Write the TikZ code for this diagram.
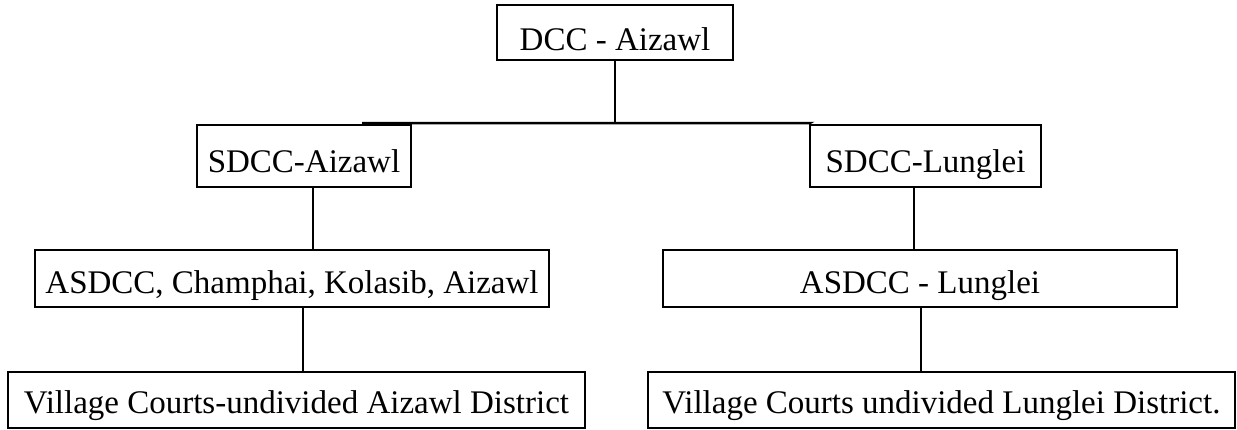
\documentclass[tikz,border=0pt]{standalone}
\usepackage{fontspec}
\setmainfont{Liberation Serif}
\begin{document}
\begin{tikzpicture}[x=1pt,y=-1pt,
  box/.style={draw, line width=2.5pt, inner sep=0pt, text depth=0pt,
    font=\fontsize{33}{36}\selectfont, align=center},
  link/.style={line width=2.5pt}]
\useasboundingbox (0,0) rectangle (1237,429);
\node[box, minimum width=236pt, minimum height=55pt, text height=35pt] (dcc) at (615,32.5) {DCC - Aizawl};
\node[box, minimum width=214pt, minimum height=62pt, text height=32pt] (sa) at (304,156) {SDCC-Aizawl};
\node[box, minimum width=231pt, minimum height=62pt, text height=32pt] (sl) at (925.5,156) {SDCC-Lunglei};
\node[box, minimum width=514pt, minimum height=57pt, text height=29pt] (aa) at (292,278.5) {ASDCC, Champhai, Kolasib, Aizawl};
\node[box, minimum width=514pt, minimum height=57pt, text height=29pt] (al) at (920,278.5) {ASDCC - Lunglei};
\node[box, minimum width=577pt, minimum height=56pt, text height=26pt] (va) at (296.5,400) {Village Courts-undivided Aizawl District};
\node[box, minimum width=587pt, minimum height=56pt, text height=26pt] (vl) at (941.5,400) {Village Courts undivided Lunglei District.};
\coordinate (jL) at (362,123);
\coordinate (jR) at (810,123);
\draw[link] (dcc.south) -- (dcc.south |- jL);
\draw[link] (jL) -- (jR) -- (sl.north west);
\draw[link] ([xshift=9pt]sa.south) -- ([xshift=9pt]sa.south |- aa.north);
\draw[link] ([xshift=-11.5pt]sl.south) -- ([xshift=-11.5pt]sl.south |- al.north);
\draw[link] ([xshift=11pt]aa.south) -- ([xshift=11pt]aa.south |- va.north);
\draw[link] ([xshift=1pt]al.south) -- ([xshift=1pt]al.south |- vl.north);
\end{tikzpicture}
\end{document}
